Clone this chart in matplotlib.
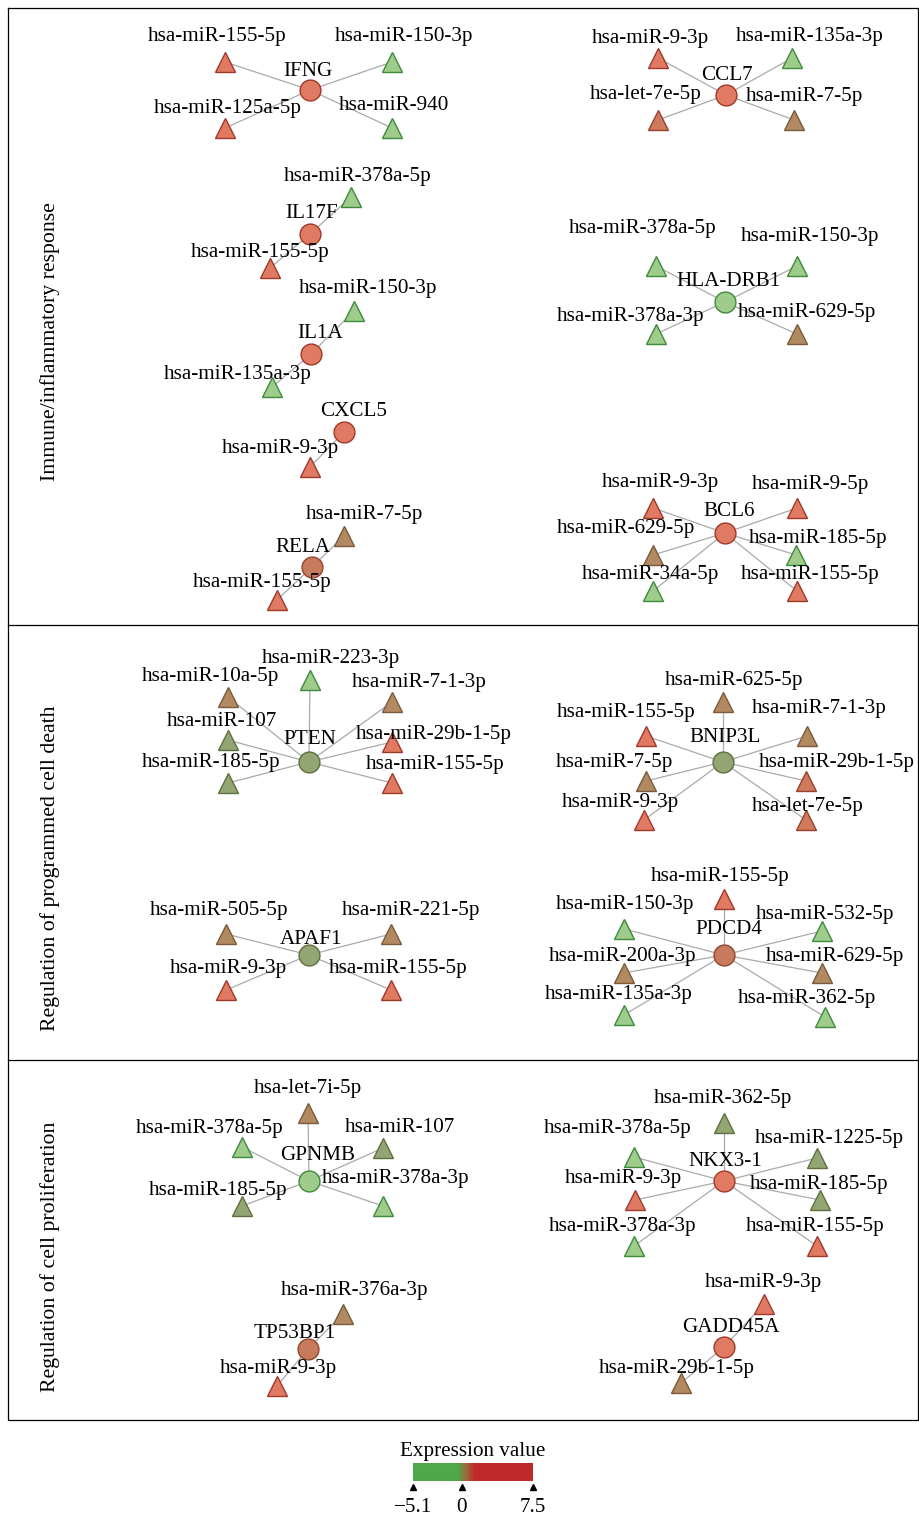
import numpy as np
import matplotlib
matplotlib.use("Agg")
import matplotlib.pyplot as plt
from matplotlib.colors import LinearSegmentedColormap, Normalize

plt.rcParams["font.family"] = ["Liberation Serif", "DejaVu Serif"]

# --- data: target gene -> miRNAs with expression values -----------------
GENES = ["IFNG", "CCL7", "IL17F", "HLA-DRB1", "IL1A", "CXCL5", "RELA", "BCL6",
         "PTEN", "BNIP3L", "APAF1", "PDCD4",
         "GPNMB", "NKX3-1", "TP53BP1", "GADD45A"]
GENE_VALUES = [4.0, 4.0, 4.0, -3.0, 4.0, 4.0, 1.5, 4.0,
               -0.5, -0.5, -0.5, 1.5,
               -3.0, 4.0, 1.5, 4.0]

MIRNAS = {
    "IFNG": ["hsa-miR-155-5p", "hsa-miR-150-3p", "hsa-miR-125a-5p", "hsa-miR-940"],
    "CCL7": ["hsa-miR-9-3p", "hsa-miR-135a-3p", "hsa-let-7e-5p", "hsa-miR-7-5p"],
    "IL17F": ["hsa-miR-378a-5p", "hsa-miR-155-5p"],
    "HLA-DRB1": ["hsa-miR-378a-5p", "hsa-miR-150-3p", "hsa-miR-378a-3p", "hsa-miR-629-5p"],
    "IL1A": ["hsa-miR-150-3p", "hsa-miR-135a-3p"],
    "CXCL5": ["hsa-miR-9-3p"],
    "RELA": ["hsa-miR-7-5p", "hsa-miR-155-5p"],
    "BCL6": ["hsa-miR-9-3p", "hsa-miR-9-5p", "hsa-miR-629-5p", "hsa-miR-185-5p",
             "hsa-miR-34a-5p", "hsa-miR-155-5p"],
    "PTEN": ["hsa-miR-223-3p", "hsa-miR-10a-5p", "hsa-miR-7-1-3p", "hsa-miR-107",
             "hsa-miR-29b-1-5p", "hsa-miR-185-5p", "hsa-miR-155-5p"],
    "BNIP3L": ["hsa-miR-625-5p", "hsa-miR-155-5p", "hsa-miR-7-1-3p", "hsa-miR-7-5p",
               "hsa-miR-29b-1-5p", "hsa-miR-9-3p", "hsa-let-7e-5p"],
    "APAF1": ["hsa-miR-505-5p", "hsa-miR-221-5p", "hsa-miR-9-3p", "hsa-miR-155-5p"],
    "PDCD4": ["hsa-miR-155-5p", "hsa-miR-150-3p", "hsa-miR-532-5p", "hsa-miR-200a-3p",
              "hsa-miR-629-5p", "hsa-miR-135a-3p", "hsa-miR-362-5p"],
    "GPNMB": ["hsa-let-7i-5p", "hsa-miR-378a-5p", "hsa-miR-107", "hsa-miR-185-5p",
              "hsa-miR-378a-3p"],
    "NKX3-1": ["hsa-miR-362-5p", "hsa-miR-378a-5p", "hsa-miR-1225-5p", "hsa-miR-9-3p",
               "hsa-miR-185-5p", "hsa-miR-378a-3p", "hsa-miR-155-5p"],
    "TP53BP1": ["hsa-miR-376a-3p", "hsa-miR-9-3p"],
    "GADD45A": ["hsa-miR-9-3p", "hsa-miR-29b-1-5p"],
}
MIRNA_VALUES = {
    "IFNG": [4.0, -3.0, 4.0, -3.0],
    "CCL7": [4.0, -3.0, 1.8, 0.5],
    "IL17F": [-3.0, 4.0],
    "HLA-DRB1": [-3.0, -3.0, -3.0, 0.5],
    "IL1A": [-3.0, -3.0],
    "CXCL5": [4.0],
    "RELA": [0.5, 4.0],
    "BCL6": [4.0, 4.0, 0.5, -3.0, -3.0, 4.0],
    "PTEN": [-3.0, 0.5, 0.5, -0.5, 4.0, -0.5, 4.0],
    "BNIP3L": [0.5, 4.0, 0.5, 0.5, 1.8, 4.0, 1.8],
    "APAF1": [0.5, 0.5, 4.0, 4.0],
    "PDCD4": [4.0, -3.0, -3.0, 0.5, 0.5, -3.0, -3.0],
    "GPNMB": [0.5, -3.0, -0.5, -0.5, -3.0],
    "NKX3-1": [-0.5, -3.0, -0.5, 4.0, -0.5, -3.0, 4.0],
    "TP53BP1": [0.5, 4.0],
    "GADD45A": [4.0, 0.5],
}

SECTIONS = ["Immune/inflammatory response",
            "Regulation of programmed cell death",
            "Regulation of cell proliferation"]

VMIN, VMAX = -5.1, 7.5
CBAR_TICKS = [-5.1, 0, 7.5]
CBAR_LABELS = ["\u22125.1", "0", "7.5"]

# --- layout (canvas pixels): node x, y, label x, label y ------------------
LAYOUT = {
    "IFNG": [(310, 90, 308, 69), (225, 62, 217, 35), (392, 62, 404, 35),
             (225, 128, 228, 107), (392, 128, 394, 103)],
    "CCL7": [(726, 95, 727, 73), (658, 58, 650, 37), (792, 58, 810, 35),
             (658, 120, 646, 93), (794, 120, 805, 95)],
    "IL17F": [(310, 234, 312, 212), (351, 197, 358, 175), (270, 268, 260, 251)],
    "HLA-DRB1": [(725, 302, 729, 280), (656, 266, 643, 227), (797, 266, 810, 234),
                 (656, 334, 631, 314), (797, 334, 807, 310)],
    "IL1A": [(311, 354, 320, 332), (354, 311, 368, 287), (272, 387, 238, 373)],
    "CXCL5": [(344, 432, 354, 410), (310, 467, 280, 447)],
    "RELA": [(312, 567, 303, 545), (344, 536, 365, 512), (277, 600, 262, 581)],
    "BCL6": [(725, 533, 729, 510), (653, 508, 660, 480), (797, 508, 811, 483),
             (653, 555, 626, 527), (796, 555, 818, 536), (653, 591, 651, 573),
             (797, 591, 810, 572)],
    "PTEN": [(309, 762, 310, 738), (310, 680, 331, 657), (228, 697, 211, 674),
             (392, 702, 419, 681), (228, 740, 222, 719), (392, 742, 434, 733),
             (228, 783, 211, 761), (392, 783, 435, 763)],
    "BNIP3L": [(723, 762, 725, 736), (723, 702, 734, 679), (646, 736, 626, 710),
               (807, 736, 819, 706), (646, 781, 614, 760), (806, 781, 837, 760),
               (644, 820, 620, 801), (806, 820, 808, 804)],
    "APAF1": [(309, 955, 311, 937), (226, 934, 219, 908), (391, 934, 411, 908),
              (226, 990, 228, 967), (391, 990, 398, 966)],
    "PDCD4": [(724, 955, 729, 928), (724, 899, 720, 875), (624, 929, 625, 903),
              (822, 931, 825, 912), (624, 973, 623, 955), (822, 973, 835, 955),
              (624, 1015, 619, 993), (825, 1017, 807, 996)],
    "GPNMB": [(309, 1181, 318, 1153), (308, 1113, 308, 1087), (242, 1147, 210, 1126),
              (383, 1148, 400, 1126), (242, 1206, 218, 1189), (383, 1206, 396, 1177)],
    "NKX3-1": [(724, 1181, 725, 1160), (724, 1123, 723, 1097), (634, 1157, 618, 1126),
               (817, 1158, 829, 1136), (635, 1200, 623, 1177), (820, 1200, 819, 1183),
               (634, 1246, 623, 1225), (817, 1246, 815, 1225)],
    "TP53BP1": [(308, 1349, 295, 1332), (343, 1314, 355, 1288), (277, 1386, 278, 1367)],
    "GADD45A": [(724, 1347, 731, 1326), (764, 1304, 763, 1280), (681, 1383, 677, 1366)],
}
W, H = 919, 1515
FRAME = (8, 918, 8, 1420)          # left, right, top, bottom
SPLITS = [625, 1060]
SECTION_Y = [342, 868, 1257]
TEXT_DY = 2                        # nudge labels down, 'center' counts descenders


def ramp(stops, name):
    pos = [(v - VMIN) / (VMAX - VMIN) for v, _ in stops]
    return LinearSegmentedColormap.from_list(name, list(zip(pos, [c for _, c in stops])))


norm = Normalize(VMIN, VMAX)
face_cmap = ramp([(VMIN, "#9fcb8b"), (-1.5, "#9fcb8b"), (-0.5, "#93a572"),
                  (0.5, "#b38a62"), (1.6, "#c97a5c"), (2.6, "#e07a62"),
                  (VMAX, "#e07a62")], "face")
edge_cmap = ramp([(VMIN, "#3d8b3d"), (-1.5, "#3d8b3d"), (-0.5, "#5e7040"),
                  (0.5, "#7a5a3a"), (1.6, "#94442e"), (2.6, "#a0382a"),
                  (VMAX, "#a0382a")], "edge")
bar_cmap = ramp([(VMIN, "#4fa84a"), (-0.4, "#4fa84a"), (0.5, "#9a6a3c"),
                 (1.4, "#c0292a"), (VMAX, "#c0292a")], "bar")

fig = plt.figure(figsize=(W / 100, H / 100), dpi=100)
ax = fig.add_axes([0, 0, 1, 1])
ax.set_xlim(0, W)
ax.set_ylim(H, 0)
ax.axis("off")

FS = 15.2
for gene, gval in zip(GENES, GENE_VALUES):
    (cx, cy, glx, gly), *tri = LAYOUT[gene]
    for (tx, ty, lx, ly), name, val in zip(tri, MIRNAS[gene], MIRNA_VALUES[gene]):
        ax.plot([cx, tx], [cy, ty], color="#aaaaaa", lw=0.9, zorder=1)
        ax.plot(tx, ty, marker="^", ms=15, mfc=face_cmap(norm(val)),
                mec=edge_cmap(norm(val)), mew=1.0, zorder=2)
        ax.text(lx, ly + TEXT_DY, name, fontsize=FS, ha="center", va="center", zorder=4)
    ax.plot(cx, cy, marker="o", ms=15, mfc=face_cmap(norm(gval)),
            mec=edge_cmap(norm(gval)), mew=1.0, zorder=3)
    ax.text(glx, gly + TEXT_DY, gene, fontsize=FS, ha="center", va="center", zorder=4)

# panel frame and section titles
left, right, top, bottom = FRAME
ax.plot([left, right, right, left, left], [top, top, bottom, bottom, top],
        color="black", lw=0.9)
for y in SPLITS:
    ax.plot([left, right], [y, y], color="black", lw=0.9)
for title, y in zip(SECTIONS, SECTION_Y):
    ax.text(50, y, title, fontsize=15.7, rotation=90, ha="center", va="center")

# colour bar
cax = fig.add_axes([413 / W, (H - 1481) / H, 120 / W, 18 / H])
grad = np.linspace(VMIN, VMAX, 512)[None, :]
cax.imshow(grad, cmap=bar_cmap, norm=norm, aspect="auto",
           extent=[VMIN, VMAX, 0, 1])
cax.set_xlim(VMIN, VMAX)
cax.set_ylim(0, 1)
cax.set_yticks([])
cax.set_xticks(CBAR_TICKS)
cax.set_xticklabels(CBAR_LABELS, fontsize=FS)
cax.tick_params(axis="x", length=0, pad=12)
for sp in cax.spines.values():
    sp.set_visible(False)
cax.plot(CBAR_TICKS, [-0.33] * 3, "^", color="black", ms=4, clip_on=False)
cax.set_title("Expression value", fontsize=FS, pad=5)

fig.savefig("out.png", dpi=100)
